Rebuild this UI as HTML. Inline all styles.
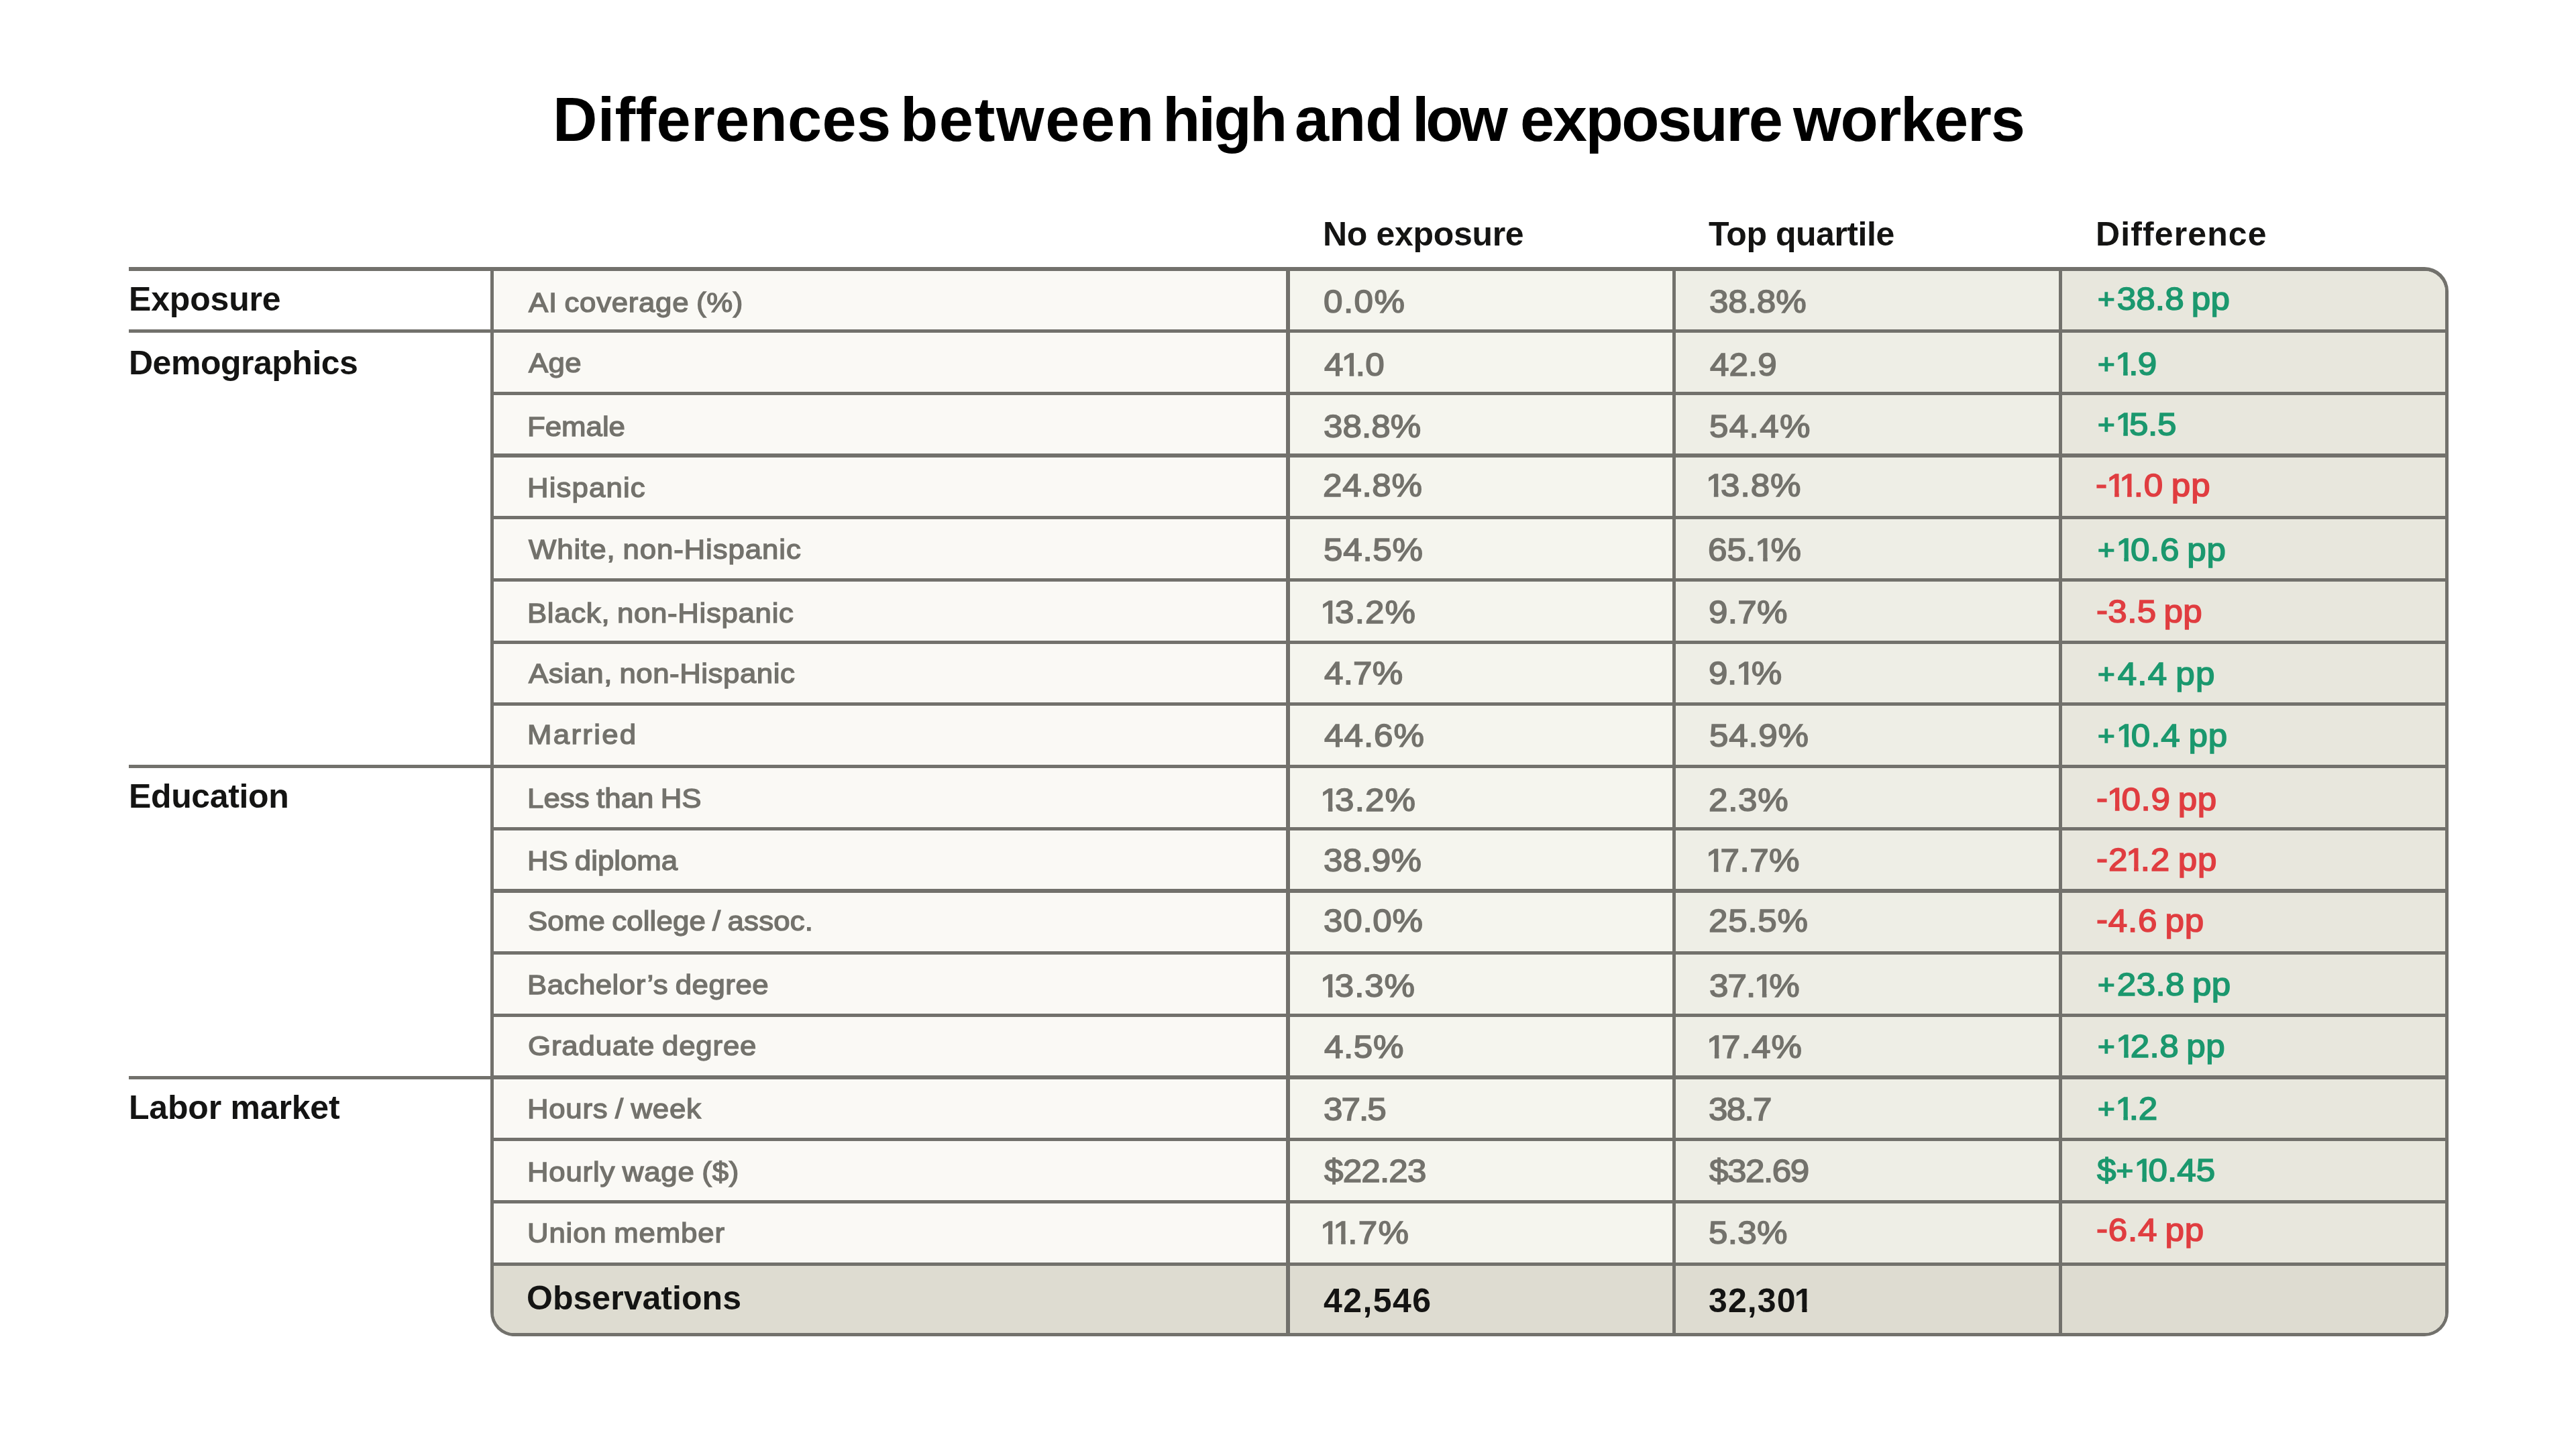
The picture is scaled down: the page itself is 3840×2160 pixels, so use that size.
<!DOCTYPE html>
<html><head><meta charset="utf-8"><title>Differences between high and low exposure workers</title>
<style>
html,body{margin:0;padding:0;background:#fff;}
body{width:3840px;height:2160px;position:relative;overflow:hidden;font-family:'Liberation Sans',sans-serif;}
.t{position:absolute;white-space:pre;line-height:120px;height:120px;margin:0;padding:0;transform-origin:0 0;will-change:transform;}
.ln{position:absolute;background:#72716c;}
.bg{position:absolute;}
.title{font-size:92.00px;font-weight:700;color:#000000;}
.hdr{font-size:50.00px;font-weight:700;color:#141413;}
.lab{font-size:41.30px;font-weight:400;color:#73726c;-webkit-text-stroke:1.40px #73726c;transform:scaleX(1.060);}
.val{font-size:47.80px;font-weight:400;color:#73726c;-webkit-text-stroke:1.55px #73726c;transform:scaleX(1.070);}
.pos{font-size:47.80px;font-weight:400;color:#1b986e;-webkit-text-stroke:1.55px #1b986e;transform:scaleX(1.070);}
.neg{font-size:47.80px;font-weight:400;color:#e03d40;-webkit-text-stroke:1.55px #e03d40;transform:scaleX(1.070);}
.p{font-size:.86em;position:relative;top:-2.3px;margin-right:2.6px;}
.h{position:relative;top:-1.8px;}
.pos,.neg{word-spacing:-3.2px;}
.lab{word-spacing:-2px;}
.val .o,.pos .o,.neg .o{display:inline-block;clip-path:polygon(-3px 0,60px 0,60px 70.80px,17.17px 70.80px,17.17px 110px,11.10px 110px,11.10px 70.80px,-3px 70.80px);}
.hdr .o{display:inline-block;clip-path:polygon(-3px 0,60px 0,60px 70.55px,18.68px 70.55px,18.68px 110px,11.52px 110px,11.52px 70.55px,-3px 70.55px);}
</style></head>
<body>
<div style="position:absolute;left:730.67px;top:398.27px;width:2919.40px;height:1593.55px;border-radius:0 36px 36px 36px;overflow:hidden;background:#72716c;">
<div style="position:absolute;left:5.25px;top:5.25px;width:2908.90px;height:1583.05px;border-radius:0 30.8px 30.8px 30.8px;overflow:hidden;background:#faf9f5;">
<div class="bg" style="left:-2.62px;top:0;width:1186.60px;height:1480.73px;background:#faf9f5"></div>
<div class="bg" style="left:1183.98px;top:0;width:575.90px;height:1480.73px;background:#f5f5ee"></div>
<div class="bg" style="left:1759.88px;top:0;width:575.90px;height:1480.73px;background:#eeeee6"></div>
<div class="bg" style="left:2335.77px;top:0;width:575.75px;height:1480.73px;background:#e8e7dd"></div>
<div class="bg" style="left:0;top:1480.73px;width:2914.15px;height:104.94px;background:#dedcd1"></div>
<div class="ln" style="left:0;top:87.46px;width:2914.15px;height:5.25px"></div>
<div class="ln" style="left:0;top:180.17px;width:2914.15px;height:5.25px"></div>
<div class="ln" style="left:0;top:272.88px;width:2914.15px;height:5.25px"></div>
<div class="ln" style="left:0;top:365.59px;width:2914.15px;height:5.25px"></div>
<div class="ln" style="left:0;top:458.30px;width:2914.15px;height:5.25px"></div>
<div class="ln" style="left:0;top:551.01px;width:2914.15px;height:5.25px"></div>
<div class="ln" style="left:0;top:643.72px;width:2914.15px;height:5.25px"></div>
<div class="ln" style="left:0;top:736.43px;width:2914.15px;height:5.25px"></div>
<div class="ln" style="left:0;top:829.14px;width:2914.15px;height:5.25px"></div>
<div class="ln" style="left:0;top:921.85px;width:2914.15px;height:5.25px"></div>
<div class="ln" style="left:0;top:1014.56px;width:2914.15px;height:5.25px"></div>
<div class="ln" style="left:0;top:1107.27px;width:2914.15px;height:5.25px"></div>
<div class="ln" style="left:0;top:1199.98px;width:2914.15px;height:5.25px"></div>
<div class="ln" style="left:0;top:1292.69px;width:2914.15px;height:5.25px"></div>
<div class="ln" style="left:0;top:1385.40px;width:2914.15px;height:5.25px"></div>
<div class="ln" style="left:0;top:1478.11px;width:2914.15px;height:5.25px"></div>
<div class="ln" style="left:1181.35px;top:0;width:5.25px;height:1588.30px"></div>
<div class="ln" style="left:1757.25px;top:0;width:5.25px;height:1588.30px"></div>
<div class="ln" style="left:2333.15px;top:0;width:5.25px;height:1588.30px"></div>
</div></div>
<div class="ln" style="left:192.00px;top:398.27px;width:542.30px;height:5.25px"></div>
<div class="ln" style="left:192.00px;top:490.98px;width:542.30px;height:5.25px"></div>
<div class="ln" style="left:192.00px;top:1139.95px;width:542.30px;height:5.25px"></div>
<div class="ln" style="left:192.00px;top:1603.51px;width:542.30px;height:5.25px"></div>
<h1 style="position:absolute;left:0;top:0;margin:0;width:3840px;height:0;font-size:0"><span class="t title" style="left:823.80px;top:118.00px;letter-spacing:0.300px">Differences</span> <span class="t title" style="left:1342.30px;top:118.00px;letter-spacing:1.667px">between</span> <span class="t title" style="left:1733.00px;top:118.00px;letter-spacing:-2.667px">high</span> <span class="t title" style="left:1929.60px;top:118.00px;letter-spacing:-1.100px">and</span> <span class="t title" style="left:2104.90px;top:118.00px;letter-spacing:-5.200px">low</span> <span class="t title" style="left:2265.60px;top:118.00px;letter-spacing:-2.457px">exposure</span> <span class="t title" style="left:2673.00px;top:118.00px;letter-spacing:-1.167px">workers</span></h1>
<div class="t hdr" style="left:1972.30px;top:289.00px;letter-spacing:-0.320px">No exposure</div>
<div class="t hdr" style="left:2547.10px;top:289.00px;letter-spacing:-0.473px">Top quartile</div>
<div class="t hdr" style="left:3124.20px;top:289.00px;letter-spacing:1.111px">Difference</div>
<div class="t hdr" style="left:191.80px;top:385.60px;letter-spacing:-0.171px">Exposure</div>
<div class="t hdr" style="left:191.80px;top:480.80px;letter-spacing:-0.491px">Demographics</div>
<div class="t hdr" style="left:191.80px;top:1126.70px;letter-spacing:-0.375px">Education</div>
<div class="t hdr" style="left:191.80px;top:1590.60px;letter-spacing:-0.200px">Labor market</div>
<div class="t hdr" style="left:785.30px;top:1875.00px;letter-spacing:0.036px">Observations</div>
<div class="t hdr" style="left:1972.50px;top:1878.60px;letter-spacing:1.440px">42,546</div>
<div class="t hdr" style="left:2547.30px;top:1878.60px;letter-spacing:1.120px">32,30<span class="o" style="margin:0 0.00px 0 -2.92px">1</span></div>
<div class="t lab" style="left:788.00px;top:390.90px;letter-spacing:0.660px">AI coverage (%)</div>
<div class="t lab" style="left:788.00px;top:481.30px;letter-spacing:0.283px">Age</div>
<div class="t lab" style="left:785.50px;top:575.80px;letter-spacing:0.000px">Female</div>
<div class="t lab" style="left:785.50px;top:667.30px;letter-spacing:1.051px">Hispanic</div>
<div class="t lab" style="left:788.00px;top:759.00px;letter-spacing:0.849px">White, non-Hispanic</div>
<div class="t lab" style="left:785.50px;top:853.50px;letter-spacing:0.639px">Black, non-Hispanic</div>
<div class="t lab" style="left:788.00px;top:943.70px;letter-spacing:0.503px">Asian, non-Hispanic</div>
<div class="t lab" style="left:785.50px;top:1035.00px;letter-spacing:2.170px">Married</div>
<div class="t lab" style="left:785.50px;top:1130.10px;letter-spacing:0.086px">Less than HS</div>
<div class="t lab" style="left:785.50px;top:1222.70px;letter-spacing:0.000px">HS diploma</div>
<div class="t lab" style="left:787.00px;top:1312.60px;letter-spacing:0.142px">Some college / assoc.</div>
<div class="t lab" style="left:785.50px;top:1407.60px;letter-spacing:0.472px">Bachelor’s degree</div>
<div class="t lab" style="left:787.00px;top:1499.00px;letter-spacing:0.782px">Graduate degree</div>
<div class="t lab" style="left:785.50px;top:1592.70px;letter-spacing:0.652px">Hours / week</div>
<div class="t lab" style="left:785.50px;top:1687.10px;letter-spacing:0.714px">Hourly wage ($)</div>
<div class="t lab" style="left:785.50px;top:1778.10px;letter-spacing:0.772px">Union member</div>
<div class="t val" style="left:1973.00px;top:389.53px;letter-spacing:1.371px">0.0%</div>
<div class="t val" style="left:1974.00px;top:484.23px;letter-spacing:0.312px">4<span class="o" style="margin:0 -7.37px 0 -2.79px">1</span>.0</div>
<div class="t val" style="left:1973.00px;top:575.83px;letter-spacing:0.047px">38.8%</div>
<div class="t val" style="left:1972.00px;top:664.33px;letter-spacing:0.701px">24.8%</div>
<div class="t val" style="left:1973.00px;top:760.12px;letter-spacing:0.701px">54.5%</div>
<div class="t val" style="left:1968.40px;top:852.73px;letter-spacing:1.028px"><span class="o" style="margin:0 -6.97px 0 0.00px">1</span>3.2%</div>
<div class="t val" style="left:1974.00px;top:944.33px;letter-spacing:0.187px">4.7%</div>
<div class="t val" style="left:1974.00px;top:1036.72px;letter-spacing:0.935px">44.6%</div>
<div class="t val" style="left:1968.40px;top:1132.62px;letter-spacing:1.028px"><span class="o" style="margin:0 -6.97px 0 0.00px">1</span>3.2%</div>
<div class="t val" style="left:1973.00px;top:1222.72px;letter-spacing:0.234px">38.9%</div>
<div class="t val" style="left:1973.00px;top:1312.72px;letter-spacing:0.701px">30.0%</div>
<div class="t val" style="left:1968.40px;top:1409.62px;letter-spacing:0.794px"><span class="o" style="margin:0 -6.97px 0 0.00px">1</span>3.3%</div>
<div class="t val" style="left:1973.50px;top:1501.32px;letter-spacing:0.561px">4.5%</div>
<div class="t val" style="left:1973.00px;top:1594.02px;letter-spacing:-1.807px">37.5</div>
<div class="t val" style="left:1974.00px;top:1685.62px;letter-spacing:-0.748px">$22.23</div>
<div class="t val" style="left:1967.80px;top:1778.32px;letter-spacing:1.215px"><span class="o" style="margin:0 -6.97px 0 0.00px">1</span><span class="o" style="margin:0 -7.37px 0 -2.79px">1</span>.7%</div>
<div class="t val" style="left:2547.50px;top:389.53px;letter-spacing:-0.093px">38.8%</div>
<div class="t val" style="left:2548.50px;top:484.23px;letter-spacing:0.062px">42.9</div>
<div class="t val" style="left:2547.50px;top:575.83px;letter-spacing:1.262px">54.4%</div>
<div class="t val" style="left:2543.00px;top:664.33px;letter-spacing:0.935px"><span class="o" style="margin:0 -6.97px 0 0.00px">1</span>3.8%</div>
<div class="t val" style="left:2546.00px;top:760.12px;letter-spacing:0.093px">65.<span class="o" style="margin:0 -4.98px 0 -1.00px">1</span>%</div>
<div class="t val" style="left:2546.50px;top:852.73px;letter-spacing:0.312px">9.7%</div>
<div class="t val" style="left:2546.50px;top:944.33px;letter-spacing:-0.312px">9.<span class="o" style="margin:0 -4.98px 0 -1.00px">1</span>%</div>
<div class="t val" style="left:2547.50px;top:1036.72px;letter-spacing:0.701px">54.9%</div>
<div class="t val" style="left:2546.50px;top:1132.62px;letter-spacing:0.685px">2.3%</div>
<div class="t val" style="left:2543.00px;top:1222.72px;letter-spacing:0.467px"><span class="o" style="margin:0 -6.97px 0 0.00px">1</span>7.7%</div>
<div class="t val" style="left:2546.50px;top:1312.72px;letter-spacing:0.701px">25.5%</div>
<div class="t val" style="left:2547.50px;top:1409.62px;letter-spacing:-0.935px">37.<span class="o" style="margin:0 -4.98px 0 -1.00px">1</span>%</div>
<div class="t val" style="left:2543.70px;top:1501.32px;letter-spacing:1.028px"><span class="o" style="margin:0 -6.97px 0 0.00px">1</span>7.4%</div>
<div class="t val" style="left:2547.30px;top:1594.02px;letter-spacing:-1.558px">38.7</div>
<div class="t val" style="left:2548.30px;top:1685.62px;letter-spacing:-1.346px">$32.69</div>
<div class="t val" style="left:2547.30px;top:1778.32px;letter-spacing:0.312px">5.3%</div>
<div class="t pos" style="left:3127.00px;top:386.38px;letter-spacing:0.160px"><span class="p">+</span>38.8 pp</div>
<div class="t pos" style="left:3127.00px;top:483.38px;letter-spacing:-0.561px"><span class="p">+</span><span class="o" style="margin:0 -7.37px 0 -1.49px">1</span>.9</div>
<div class="t pos" style="left:3127.00px;top:572.58px;letter-spacing:-0.374px"><span class="p">+</span><span class="o" style="margin:0 -6.97px 0 -1.49px">1</span>5.5</div>
<div class="t neg" style="left:3124.40px;top:664.27px;letter-spacing:0.828px"><span class="h">-</span><span class="o" style="margin:0 -6.97px 0 -1.49px">1</span><span class="o" style="margin:0 -7.37px 0 -2.79px">1</span>.0 pp</div>
<div class="t pos" style="left:3127.00px;top:759.77px;letter-spacing:0.561px"><span class="p">+</span><span class="o" style="margin:0 -6.97px 0 -1.49px">1</span>0.6 pp</div>
<div class="t neg" style="left:3124.90px;top:852.08px;letter-spacing:0.312px"><span class="h">-</span>3.5 pp</div>
<div class="t pos" style="left:3127.00px;top:945.18px;letter-spacing:1.121px"><span class="p">+</span>4.4 pp</div>
<div class="t pos" style="left:3127.00px;top:1036.97px;letter-spacing:0.881px"><span class="p">+</span><span class="o" style="margin:0 -6.97px 0 -1.49px">1</span>0.4 pp</div>
<div class="t neg" style="left:3124.90px;top:1132.17px;letter-spacing:0.534px"><span class="h">-</span><span class="o" style="margin:0 -6.97px 0 -1.49px">1</span>0.9 pp</div>
<div class="t neg" style="left:3124.90px;top:1222.07px;letter-spacing:0.801px"><span class="h">-</span>2<span class="o" style="margin:0 -7.37px 0 -2.79px">1</span>.2 pp</div>
<div class="t neg" style="left:3124.90px;top:1312.57px;letter-spacing:0.685px"><span class="h">-</span>4.6 pp</div>
<div class="t pos" style="left:3127.00px;top:1408.27px;letter-spacing:0.347px"><span class="p">+</span>23.8 pp</div>
<div class="t pos" style="left:3127.00px;top:1500.38px;letter-spacing:0.401px"><span class="p">+</span><span class="o" style="margin:0 -6.97px 0 -1.49px">1</span>2.8 pp</div>
<div class="t pos" style="left:3127.00px;top:1592.88px;letter-spacing:-0.312px"><span class="p">+</span><span class="o" style="margin:0 -7.37px 0 -1.49px">1</span>.2</div>
<div class="t pos" style="left:3125.90px;top:1685.17px;letter-spacing:0.062px">$<span class="p">+</span><span class="o" style="margin:0 -6.97px 0 -1.49px">1</span>0.45</div>
<div class="t neg" style="left:3124.90px;top:1774.27px;letter-spacing:0.685px"><span class="h">-</span>6.4 pp</div>
</body></html>
